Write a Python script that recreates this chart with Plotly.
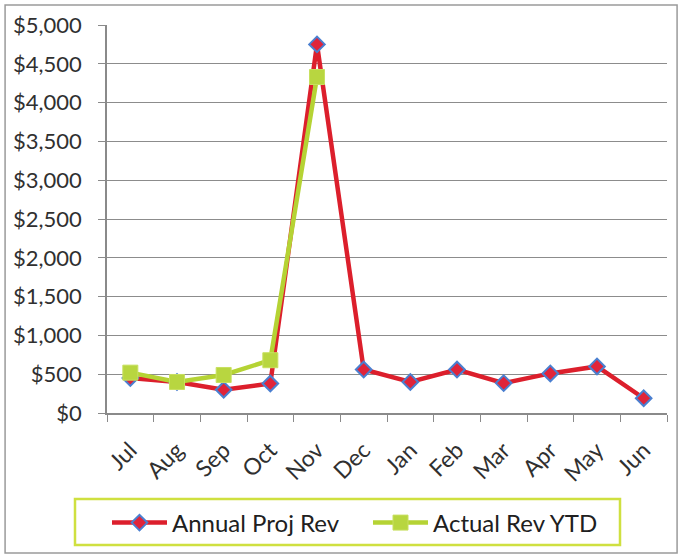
import plotly.graph_objects as go

months = ["Jul", "Aug", "Sep", "Oct", "Nov", "Dec", "Jan", "Feb", "Mar", "Apr", "May", "Jun"]
annual_proj_rev = [450, 400, 300, 380, 4750, 560, 400, 560, 385, 510, 600, 190]
actual_rev_ytd = [520, 400, 490, 680, 4330]
y_ticks = [0, 500, 1000, 1500, 2000, 2500, 3000, 3500, 4000, 4500, 5000]
y_tick_labels = ["$0", "$500", "$1,000", "$1,500", "$2,000", "$2,500", "$3,000",
                 "$3,500", "$4,000", "$4,500", "$5,000"]

FONT = "Lato, 'Open Sans', sans-serif"

fig = go.Figure()
fig.add_trace(go.Scatter(
    x=months, y=annual_proj_rev, name="Annual Proj Rev", mode="lines+markers",
    line=dict(color="#dc1f2c", width=4.5),
    marker=dict(symbol="diamond", size=12, color="#e0243a",
                line=dict(color="#4a7fd0", width=2)),
))
fig.add_trace(go.Scatter(
    x=months[:len(actual_rev_ytd)], y=actual_rev_ytd, name="Actual Rev YTD",
    mode="lines+markers",
    line=dict(color="#b5d334", width=4.5),
    marker=dict(symbol="square", size=15, color="#b8d640",
                line=dict(color="#c8e060", width=1)),
))

fig.update_layout(
    width=682, height=557,
    margin=dict(l=107, r=15, t=25, b=144, autoexpand=False),
    paper_bgcolor="white", plot_bgcolor="white",
    font=dict(family=FONT, size=20, color="#303030"),
    showlegend=True,
    legend=dict(
        orientation="h", x=0.0, xanchor="left", y=(413 - 523) / 388, yanchor="middle",
        borderwidth=0, bgcolor="rgba(0,0,0,0)",
        font=dict(family=FONT, size=24, color="#202020"),
        itemwidth=55, entrywidth=191,
    ),
    shapes=[
        dict(type="rect", xref="paper", yref="paper",
             x0=-0.182, x1=1.018, y0=-0.361, y1=1.0515,
             line=dict(color="#9a9a9a", width=1.5)),
        dict(type="rect", xref="paper", yref="paper",
             x0=(75 - 107) / 560, x1=(620 - 107) / 560,
             y0=(413 - 545) / 388, y1=(413 - 499) / 388,
             line=dict(color="#cfe040", width=2.5)),
    ],
)
fig.update_xaxes(
    type="category", tickson="boundaries", ticks="outside", ticklen=7,
    tickcolor="#8a8a8a", showline=True, linecolor="#8a8a8a", linewidth=1.5,
    showgrid=False, tickangle=-45, tickfont=dict(size=23),
    ticklabelstandoff=13,
    range=[-0.5, 11.5], automargin=False,
)
fig.update_yaxes(
    range=[0, 5000], tickvals=y_ticks, ticktext=y_tick_labels,
    ticks="outside", ticklen=7, tickcolor="#8a8a8a",
    showline=True, linecolor="#8a8a8a", linewidth=1.5,
    showgrid=True, gridcolor="#8c8c8c", gridwidth=1,
    zeroline=False, tickfont=dict(size=22), automargin=False,
    ticklabelstandoff=12,
)

fig.write_html("out.html", config={"displayModeBar": False},
               post_script="document.body.style.margin='0';")
